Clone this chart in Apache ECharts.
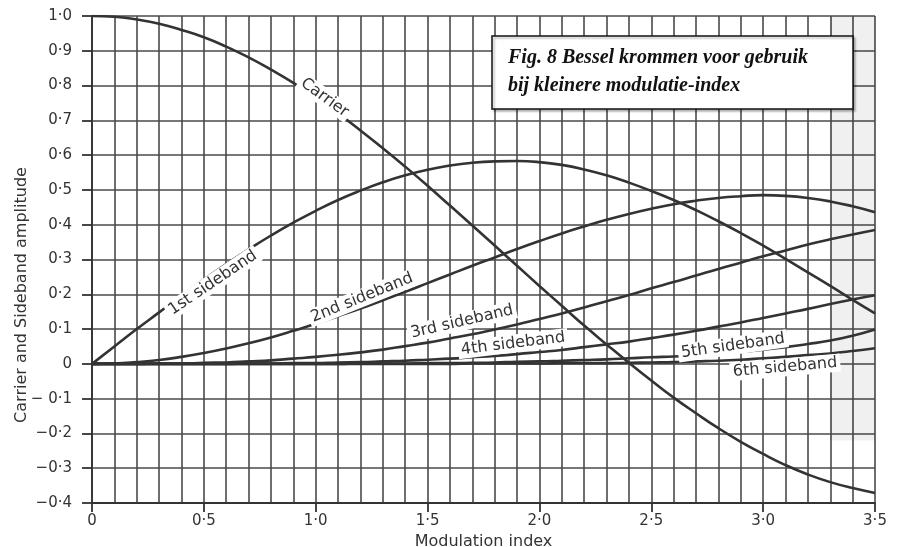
<!DOCTYPE html>
<html><head><meta charset="utf-8">
<script src="https://cdn.jsdelivr.net/npm/echarts@6/dist/echarts.min.js"></script>
<style>html,body{margin:0;padding:0;background:#fff}#c{width:902px;height:547px}</style>
</head><body><div id="c"></div>
<script>
// Modulation index (x) sampled every 0.1
const modulationIndex = [0,0.1,0.2,0.3,0.4,0.5,0.6,0.7,0.8,0.9,1.0,1.1,1.2,1.3,1.4,1.5,1.6,1.7,1.8,1.9,2.0,2.1,2.2,2.3,2.4,2.5,2.6,2.7,2.8,2.9,3.0,3.1,3.2,3.3,3.4,3.5];
const carrier   = [1.000,0.998,0.990,0.978,0.960,0.939,0.912,0.881,0.846,0.808,0.765,0.720,0.671,0.620,0.567,0.512,0.455,0.398,0.340,0.282,0.224,0.167,0.110,0.056,0.003,-0.048,-0.097,-0.142,-0.185,-0.224,-0.259,-0.291,-0.318,-0.340,-0.357,-0.371];
const sideband1 = [0,0.050,0.100,0.148,0.196,0.242,0.287,0.329,0.369,0.406,0.440,0.471,0.498,0.522,0.542,0.558,0.570,0.578,0.582,0.583,0.580,0.572,0.559,0.542,0.521,0.497,0.471,0.442,0.410,0.376,0.340,0.302,0.263,0.224,0.184,0.145];
const sideband2 = [0,0.001,0.005,0.011,0.020,0.031,0.044,0.059,0.076,0.095,0.115,0.137,0.159,0.183,0.207,0.232,0.257,0.282,0.306,0.330,0.353,0.375,0.395,0.414,0.431,0.446,0.459,0.469,0.477,0.482,0.485,0.483,0.477,0.467,0.453,0.436];
const sideband3 = [0,0.000,0.000,0.001,0.001,0.003,0.004,0.007,0.010,0.015,0.020,0.026,0.033,0.041,0.051,0.061,0.073,0.085,0.099,0.113,0.129,0.145,0.162,0.180,0.198,0.217,0.235,0.254,0.273,0.291,0.309,0.326,0.343,0.358,0.372,0.385];
const sideband4 = [0,0,0.000,0.000,0.000,0.000,0.000,0.001,0.001,0.002,0.002,0.004,0.005,0.007,0.009,0.012,0.015,0.019,0.023,0.028,0.034,0.040,0.048,0.056,0.064,0.074,0.084,0.095,0.107,0.119,0.132,0.145,0.158,0.172,0.185,0.197];
const sideband5 = [0,0,0,0,0,0,0,0,0.000,0.000,0.000,0.000,0.001,0.001,0.001,0.002,0.002,0.003,0.004,0.006,0.007,0.009,0.011,0.013,0.016,0.019,0.021,0.024,0.028,0.034,0.041,0.048,0.057,0.067,0.081,0.099];
const sideband6 = [0,0,0,0,0,0,0,0,0,0,0,0,0,0,0.000,0.000,0.000,0.001,0.001,0.001,0.001,0.002,0.002,0.002,0.003,0.004,0.005,0.007,0.009,0.012,0.016,0.020,0.025,0.030,0.037,0.045];

const xTickLabels = ["0","0·5","1·0","1·5","2·0","2·5","3·0","3·5"];
const yTickLabels = ["\u22120·4","\u22120·3","\u22120·2","\u2212 0·1","0","0·1","0·2","0·3","0·4","0·5","0·6","0·7","0·8","0·9","1·0"];

const seriesNames = ["Carrier","1st sideband","2nd sideband","3rd sideband","4th sideband","5th sideband","6th sideband"];
const seriesValues = [carrier,sideband1,sideband2,sideband3,sideband4,sideband5,sideband6];

// label anchors in data coordinates (x, y) and rotation in degrees
const curveLabels = [
  {text:"Carrier",      x:1.040, y:0.765, rot:-36},
  {text:"1st sideband", x:0.540, y:0.233, rot:34},
  {text:"2nd sideband", x:1.207, y:0.190, rot:22},
  {text:"3rd sideband", x:1.654, y:0.121, rot:13},
  {text:"4th sideband", x:1.882, y:0.058, rot:7},
  {text:"5th sideband", x:2.865, y:0.052, rot:8},
  {text:"6th sideband", x:3.098, y:-0.010, rot:5}
];

const ink = '#333';
const gridInk = '#4a4a4a';
const lblFont = '"DejaVu Sans", sans-serif';

const chart = echarts.init(document.getElementById('c'));
const series = seriesValues.map((vals, i) => ({
  name: seriesNames[i],
  type: 'line',
  data: modulationIndex.map((x, k) => [x, vals[k]]),
  showSymbol: false,
  symbol: 'none',
  smooth: true,
  lineStyle: {color: ink, width: 2.6},
  z: 3,
  markArea: i === 0 ? {
    silent: true,
    itemStyle: {color: 'rgba(0,0,0,0.06)'},
    data: [[{xAxis: 3.3, yAxis: -0.22}, {xAxis: 3.5, yAxis: 1.0}]]
  } : undefined
}));

chart.setOption({
  animation: false,
  backgroundColor: '#fff',
  grid: {left: 92, right: 27, top: 16, bottom: 44, outerBoundsMode: 'none', containLabel: false},
  xAxis: {
    type: 'value', min: 0, max: 3.5, interval: 0.5,
    axisLine: {show: true, onZero: false, lineStyle: {color: ink, width: 1.8}},
    axisTick: {show: true, length: 9, lineStyle: {color: ink, width: 1.8}},
    minorTick: {show: false, splitNumber: 5},
    splitLine: {show: true, lineStyle: {color: gridInk, width: 1.6}},
    minorSplitLine: {show: true, lineStyle: {color: gridInk, width: 1.6}},
    axisLabel: {margin: 11, color: ink, fontSize: 15, fontFamily: lblFont,
      formatter: v => xTickLabels[Math.round(v / 0.5)]},
    name: 'Modulation index', nameLocation: 'middle', nameGap: 31,
    nameTextStyle: {color: ink, fontSize: 16, fontFamily: lblFont}
  },
  yAxis: {
    type: 'value', min: -0.4, max: 1.0, interval: 0.1,
    axisLine: {show: true, onZero: false, lineStyle: {color: ink, width: 1.8}},
    axisTick: {show: true, length: 10, lineStyle: {color: ink, width: 1.8}},
    splitLine: {show: true, lineStyle: {color: gridInk, width: 1.6}},
    axisLabel: {margin: 20, color: ink, fontSize: 15, fontFamily: lblFont,
      formatter: v => yTickLabels[Math.round((v + 0.4) * 10)]}
  },
  series: series
});

const graphics = curveLabels.map(l => {
  const p = chart.convertToPixel({gridIndex: 0}, [l.x, l.y]);
  return {
    type: 'text', x: p[0], y: p[1], rotation: l.rot * Math.PI / 180, z: 10,
    style: {text: l.text, fill: ink, font: '16px ' + lblFont, align: 'center', verticalAlign: 'middle',
      backgroundColor: '#fff', padding: [1, 3]}
  };
});
graphics.push({
  type: 'text', x: 22, y: 295, rotation: Math.PI / 2, z: 10,
  style: {text: 'Carrier and Sideband amplitude', fill: ink, font: '16px ' + lblFont, align: 'center', verticalAlign: 'middle'}
});
graphics.push({
  type: 'rect', z: 11, shape: {x: 492, y: 36, width: 361, height: 73},
  style: {fill: '#fff', stroke: '#111', lineWidth: 1.5, shadowColor: 'rgba(0,0,0,0.25)', shadowOffsetX: 2, shadowOffsetY: 2, shadowBlur: 2}
});
graphics.push({
  type: 'text', z: 12, x: 508, y: 58,
  style: {text: 'Fig. 8 Bessel krommen voor gebruik', fill: '#111', font: 'italic bold 20px "Liberation Serif", serif', verticalAlign: 'middle'}
});
graphics.push({
  type: 'text', z: 12, x: 508, y: 86,
  style: {text: 'bij kleinere modulatie-index', fill: '#111', font: 'italic bold 20px "Liberation Serif", serif', verticalAlign: 'middle'}
});
chart.setOption({graphic: graphics});
</script>
</body></html>
